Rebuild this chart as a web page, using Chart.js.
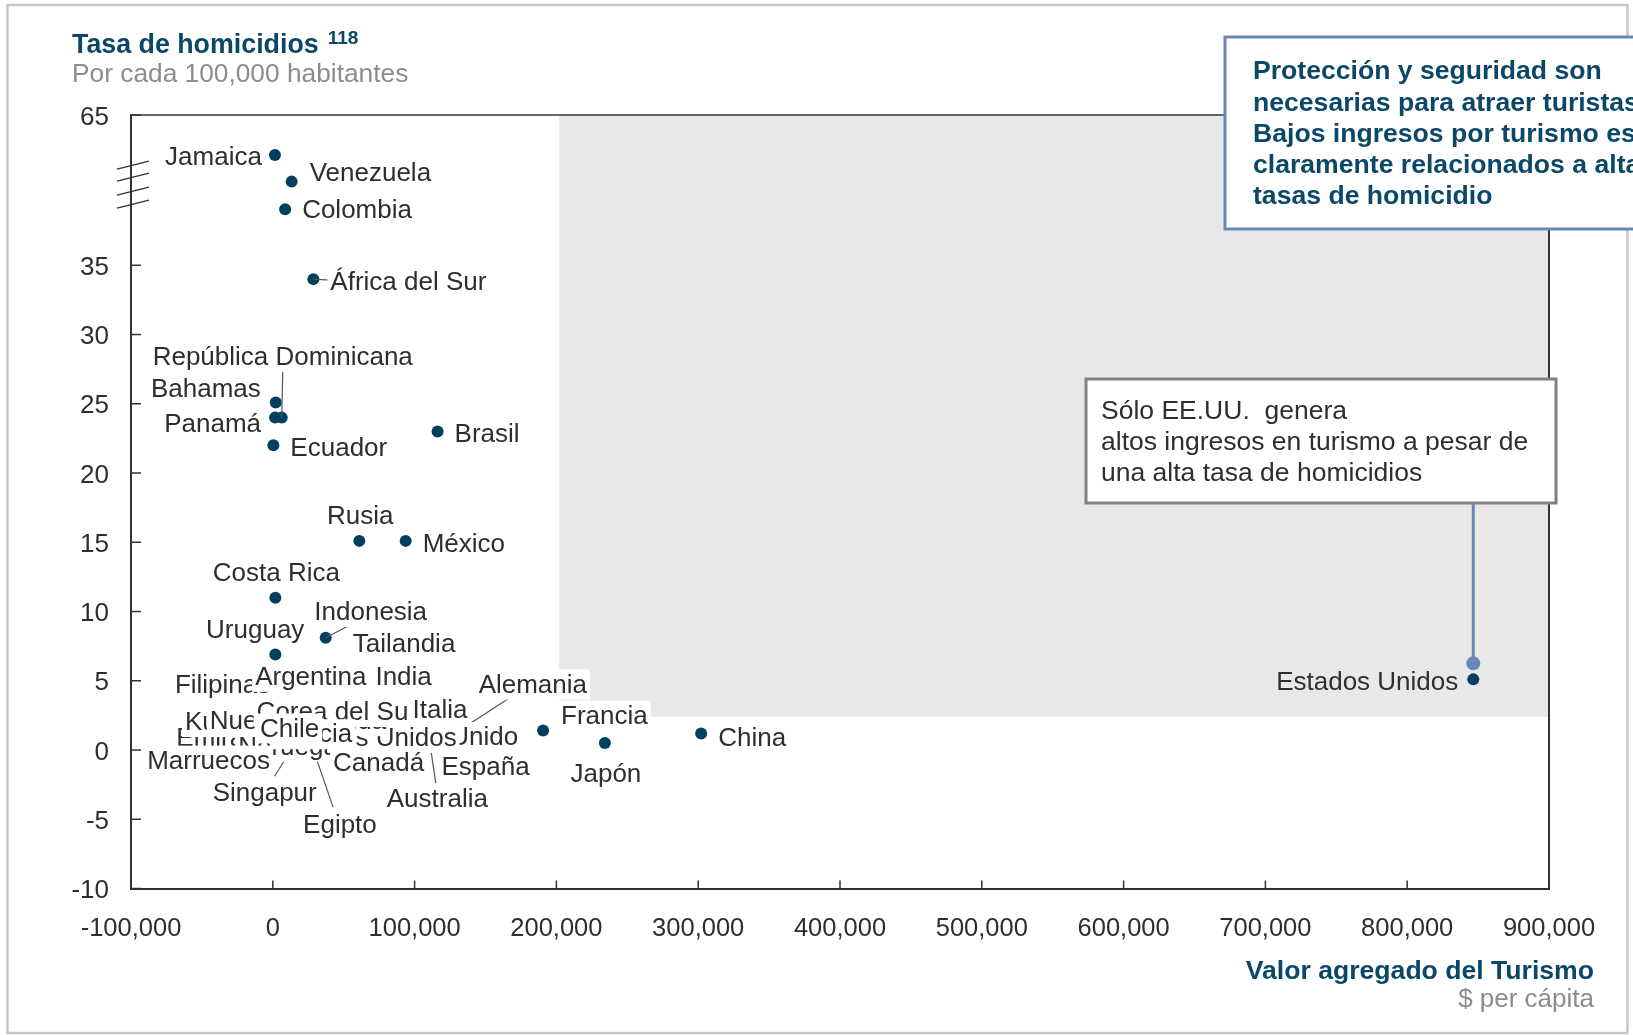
<!DOCTYPE html>
<html lang="es">
<head>
<meta charset="utf-8">
<title>Tasa de homicidios vs. valor agregado del turismo</title>
<script src="https://cdn.jsdelivr.net/npm/chart.js@4.4.1/dist/chart.umd.min.js"></script>
<style>
  html, body { margin: 0; padding: 0; background: #fff; overflow: hidden; }
  #contenedor { position: relative; width: 1633px; height: 1035px; }
</style>
</head>
<body>
<div id="contenedor"><canvas id="grafico" width="1633" height="1035"></canvas></div>
<script>
/* ============================================================
   Homicidios vs. turismo — diagrama de dispersión
============================================================ */

const FUENTE = '"Liberation Sans", Arial, Helvetica, sans-serif';
const COLOR_PUNTO = "#00405e";
const COLOR_TITULO = "#0b4868";
const COLOR_TEXTO = "#2e2e2e";
const COLOR_GRIS = "#8c8c8c";
const COLOR_AZUL = "#6b86b9";

/* Datos (el orden también fija el orden de dibujo de las etiquetas) */
const paises = [
    "Jamaica", "Venezuela", "Colombia", "África del Sur", "República Dominicana",
    "Bahamas", "Panamá", "Ecuador", "Brasil", "Rusia", "México", "Costa Rica",
    "Indonesia", "Tailandia", "Uruguay", "Francia", "Japón", "China", "Estados Unidos",
    "Filipinas", "Argentina", "India", "Reino Unido", "Emiratos Árabes Unidos",
    "Kuwait", "Nueva Zelanda", "Corea del Sur", "Italia", "Noruega", "Grecia", "Chile",
    "Marruecos", "Canadá", "España", "Singapur", "Australia", "Egipto", "Alemania"
];

const valorTurismo = [
    1500, 13300, 8700, 28600, 6300,
    2100, 1600, 400, 116200, 61000, 93700, 1800,
    37300, 62000, 1800, 190600, 234200, 302100, 846600,
    17000, 20000, 90000, 130000, 30000,
    5000, 12000, 45000, 100000, 20000, 25000, 10000,
    8000, 70000, 90000, 14000, 110000, 27000, 124000
];

const tasaHomicidios = [
    57.0, 51.7, 46.2, 34.0, 24.0,
    25.1, 24.0, 22.0, 23.0, 15.1, 15.1, 11.0,
    8.1, 7.2, 6.9, 1.4, 0.5, 1.2, 5.1,
    4.7, 5.5, 3.2, 1.0, 0.8,
    1.8, 1.0, 2.6, 1.2, 0.6, 1.5, 3.0,
    1.4, 1.5, 0.7, 0.2, 1.0, 0.5, 0.9
];

const ticksX = [-100000, 0, 100000, 200000, 300000, 400000, 500000, 600000, 700000, 800000, 900000];
const ticksY = [-10, -5, 0, 5, 10, 15, 20, 25, 30, 35, 65];

// eje Y cortado: por encima de 35 la escala se comprime
const CORTE_Y = 35;
const FACTOR_CORTE = 0.3617;

// zona sombreada (turismo alto / homicidios altos)
const ZONA_X_DESDE = 202000;
const ZONA_Y_HASTA = 2.4;

/* Posición de etiquetas: [alineación, dx, dy] en px respecto al punto */
const posEtiquetas = {
    "Jamaica": ["right", -13, 2],
    "Venezuela": ["left", 18, -9],
    "Colombia": ["left", 17, 1],
    "África del Sur": ["left", 17, 3],
    "República Dominicana": ["center", 1, -61],
    "Bahamas": ["right", -15, -14],
    "Panamá": ["right", -14, 6],
    "Ecuador": ["left", 17, 3],
    "Brasil": ["left", 17, 2],
    "Rusia": ["center", 1, -25],
    "México": ["left", 17, 3],
    "Costa Rica": ["center", 1, -25],
    "Indonesia": ["center", 45, -26],
    "Tailandia": ["left", -8, -6],
    "Uruguay": ["right", 29, -25],
    "Francia": ["left", 18, -15],
    "Japón": ["center", 1, 31],
    "China": ["left", 17, 4],
    "Estados Unidos": ["right", -15, 2],
    "Filipinas": ["left", -122, 0],
    "Argentina": ["left", -46, 3],
    "India": ["left", -25, -29],
    "Reino Unido": ["right", 61, 1],
    "Emiratos Árabes Unidos": ["left", -139, -1],
    "Kuwait": ["left", -95, -3],
    "Nueva Zelanda": ["left", -80, -15],
    "Corea del Sur": ["left", -80, -2],
    "Italia": ["left", -2, -24],
    "Noruega": ["left", -63, 5],
    "Grecia": ["right", 44, 5],
    "Chile": ["left", -27, 20],
    "Marruecos": ["left", -137, 30],
    "Canadá": ["left", -39, 34],
    "España": ["left", 41, 27],
    "Singapur": ["left", -80, 46],
    "Australia": ["left", -42, 63],
    "Egipto": ["left", -8, 82],
    "Alemania": ["left", 30, -53]
};

// etiquetas sin fondo blanco
const sinFondo = ["Estados Unidos"];

/* Líneas guía: extremo [dx, dy] desde el punto */
const guias = {
    "África del Sur": [17, 1],
    "República Dominicana": [1, -46],
    "Indonesia": [21, -11],
    "Singapur": [-18, 29],
    "Australia": [7, 47],
    "Egipto": [22, 64],
    "Alemania": [60, -39]
};

/* Escala lineal con corte */
function comprimir(v) {
    return v <= CORTE_Y ? v : CORTE_Y + (v - CORTE_Y) * FACTOR_CORTE;
}
function descomprimir(v) {
    return v <= CORTE_Y ? v : CORTE_Y + (v - CORTE_Y) / FACTOR_CORTE;
}

class EscalaCortada extends Chart.LinearScale {
    static id = "cortada";
    static defaults = Chart.LinearScale.defaults;
    getPixelForValue(v) {
        return super.getPixelForValue(comprimir(v));
    }
    getValueForPixel(p) {
        return descomprimir(super.getValueForPixel(p));
    }
}
Chart.register(EscalaCortada);

function linea(ctx, x1, y1, x2, y2) {
    ctx.beginPath();
    ctx.moveTo(x1, y1);
    ctx.lineTo(x2, y2);
    ctx.stroke();
}

/* Marco, zona gris, etiquetas, cuadros de texto */
const decoracion = {
    id: "decoracion",

    beforeDraw(chart) {
        const ctx = chart.ctx;
        ctx.save();
        ctx.strokeStyle = "#c6c6c6";
        ctx.lineWidth = 2.5;
        ctx.strokeRect(7.5, 5, 1620, 1028);
        ctx.restore();
    },

    beforeDatasetsDraw(chart) {
        const { ctx, chartArea: a, scales: { x, y } } = chart;
        ctx.save();
        ctx.fillStyle = "#e8e8e8";
        const x0 = x.getPixelForValue(ZONA_X_DESDE);
        const y1 = y.getPixelForValue(ZONA_Y_HASTA);
        ctx.fillRect(x0, a.top, a.right - x0, y1 - a.top);
        ctx.restore();
    },

    afterDatasetsDraw(chart) {
        const { ctx, chartArea: a, scales: { x, y } } = chart;
        ctx.save();

        // borde superior y derecho del área
        ctx.strokeStyle = "#333";
        ctx.lineWidth = 1.5;
        linea(ctx, a.left, a.top, a.right, a.top);
        ctx.lineWidth = 2;
        linea(ctx, a.right, a.top, a.right, a.bottom);

        // marcas de los ejes hacia adentro
        ctx.lineWidth = 1.5;
        for (const v of ticksX.slice(1)) {
            const px = x.getPixelForValue(v);
            linea(ctx, px, a.bottom, px, a.bottom - 8);
        }
        for (const v of ticksY) {
            const py = y.getPixelForValue(v);
            linea(ctx, a.left, py, a.left + 10, py);
        }

        // símbolo de corte en el eje Y
        const yc = y.getPixelForValue(51);
        for (const off of [-20, -8, 6, 19]) {
            linea(ctx, a.left - 14, yc + off + 4, a.left + 18, yc + off - 4);
        }

        // líneas guía
        ctx.strokeStyle = "#555";
        ctx.lineWidth = 1.2;
        paises.forEach((p, i) => {
            const g = guias[p];
            if (!g) return;
            const px = x.getPixelForValue(valorTurismo[i]);
            const py = y.getPixelForValue(tasaHomicidios[i]);
            linea(ctx, px, py, px + g[0], py + g[1]);
        });

        // etiquetas con fondo blanco
        ctx.font = `26px ${FUENTE}`;
        ctx.textBaseline = "middle";
        paises.forEach((p, i) => {
            const [alin, dx, dy] = posEtiquetas[p];
            const px = x.getPixelForValue(valorTurismo[i]) + dx;
            const py = y.getPixelForValue(tasaHomicidios[i]) + dy;
            const w = ctx.measureText(p).width;
            let left = px;
            if (alin === "right") left = px - w;
            if (alin === "center") left = px - w / 2;
            if (!sinFondo.includes(p)) {
                ctx.fillStyle = "#fff";
                ctx.fillRect(left - 3, py - 15, w + 6, 30);
            }
            ctx.fillStyle = COLOR_TEXTO;
            ctx.textAlign = "left";
            ctx.fillText(p, left, py + 1);
        });

        // llamada de EE.UU.
        const iUS = paises.indexOf("Estados Unidos");
        const ux = x.getPixelForValue(valorTurismo[iUS]);
        const uy = y.getPixelForValue(tasaHomicidios[iUS]) - 16;
        ctx.strokeStyle = COLOR_AZUL;
        ctx.fillStyle = COLOR_AZUL;
        ctx.lineWidth = 3;
        linea(ctx, ux, 503, ux, uy);
        ctx.beginPath();
        ctx.arc(ux, uy, 7, 0, Math.PI * 2);
        ctx.fill();

        ctx.restore();
    },

    afterDraw(chart) {
        const ctx = chart.ctx;
        ctx.save();
        ctx.textBaseline = "middle";

        // títulos
        ctx.fillStyle = COLOR_TITULO;
        ctx.font = `bold 26.8px ${FUENTE}`;
        const titulo = "Tasa de homicidios";
        ctx.fillText(titulo, 72, 46);
        const wt = ctx.measureText(titulo).width;
        ctx.font = `bold 19px ${FUENTE}`;
        ctx.fillText("118", 72 + wt + 9, 39);
        ctx.fillStyle = COLOR_GRIS;
        ctx.font = `26.3px ${FUENTE}`;
        ctx.fillText("Por cada 100,000 habitantes", 72, 75);

        ctx.textAlign = "right";
        ctx.fillStyle = COLOR_TITULO;
        ctx.font = `bold 26.6px ${FUENTE}`;
        ctx.fillText("Valor agregado del Turismo", 1594, 972);
        ctx.fillStyle = COLOR_GRIS;
        ctx.font = `26px ${FUENTE}`;
        ctx.fillText("$ per cápita", 1594, 1000);
        ctx.textAlign = "left";

        // cuadro EE.UU.
        ctx.fillStyle = "#fff";
        ctx.fillRect(1086, 379, 470, 124);
        ctx.strokeStyle = "#808080";
        ctx.lineWidth = 3;
        ctx.strokeRect(1086, 379, 470, 124);
        ctx.fillStyle = COLOR_TEXTO;
        ctx.font = `26.5px ${FUENTE}`;
        ["Sólo EE.UU.  genera",
         "altos ingresos en turismo a pesar de",
         "una alta tasa de homicidios"].forEach((t, k) => ctx.fillText(t, 1101, 412 + k * 31));

        // cuadro superior derecho
        ctx.fillStyle = "#fff";
        ctx.fillRect(1225, 37, 460, 192);
        ctx.strokeStyle = COLOR_AZUL;
        ctx.strokeRect(1225, 37, 460, 192);
        ctx.fillStyle = COLOR_TITULO;
        ctx.font = `bold 26.6px ${FUENTE}`;
        ["Protección y seguridad son",
         "necesarias para atraer turistas",
         "Bajos ingresos por turismo están",
         "claramente relacionados a altas",
         "tasas de homicidio"].forEach((t, k) => ctx.fillText(t, 1253, 72 + k * 31.2));

        ctx.restore();
    }
};

const ctx = document.getElementById("grafico");

new Chart(ctx, {
    type: "scatter",
    data: {
        datasets: [{
            label: "Países",
            data: paises.map((p, i) => ({ x: valorTurismo[i], y: tasaHomicidios[i] })),
            pointRadius: 6,
            pointHoverRadius: 6,
            pointBorderWidth: 0,
            backgroundColor: COLOR_PUNTO
        }]
    },
    options: {
        responsive: false,
        devicePixelRatio: 1,
        animation: false,
        events: [],
        layout: { padding: { top: 115, right: 84, left: 0, bottom: 0 } },
        plugins: { legend: { display: false }, tooltip: { enabled: false } },
        scales: {
            x: {
                type: "linear",
                min: -100000,
                max: 900000,
                grid: { display: false },
                border: { display: true, color: "#333", width: 2 },
                afterBuildTicks: s => { s.ticks = ticksX.map(v => ({ value: v })); },
                afterFit: s => { s.height = 146.5; },
                ticks: {
                    autoSkip: false,
                    maxRotation: 0,
                    padding: 17,
                    color: COLOR_TEXTO,
                    font: { family: FUENTE, size: 25.5 },
                    callback: v => Number(v).toLocaleString("en-US")
                }
            },
            y: {
                type: "cortada",
                min: -10,
                max: comprimir(65),
                grid: { display: false },
                border: { display: true, color: "#333", width: 2 },
                afterBuildTicks: s => { s.ticks = ticksY.map(v => ({ value: v })); },
                afterFit: s => { s.width = 131; },
                ticks: {
                    autoSkip: false,
                    padding: 14,
                    labelOffset: 2.5,
                    color: COLOR_TEXTO,
                    font: { family: FUENTE, size: 26 },
                    callback: v => String(v)
                }
            }
        }
    },
    plugins: [decoracion]
});
</script>
</body>
</html>
